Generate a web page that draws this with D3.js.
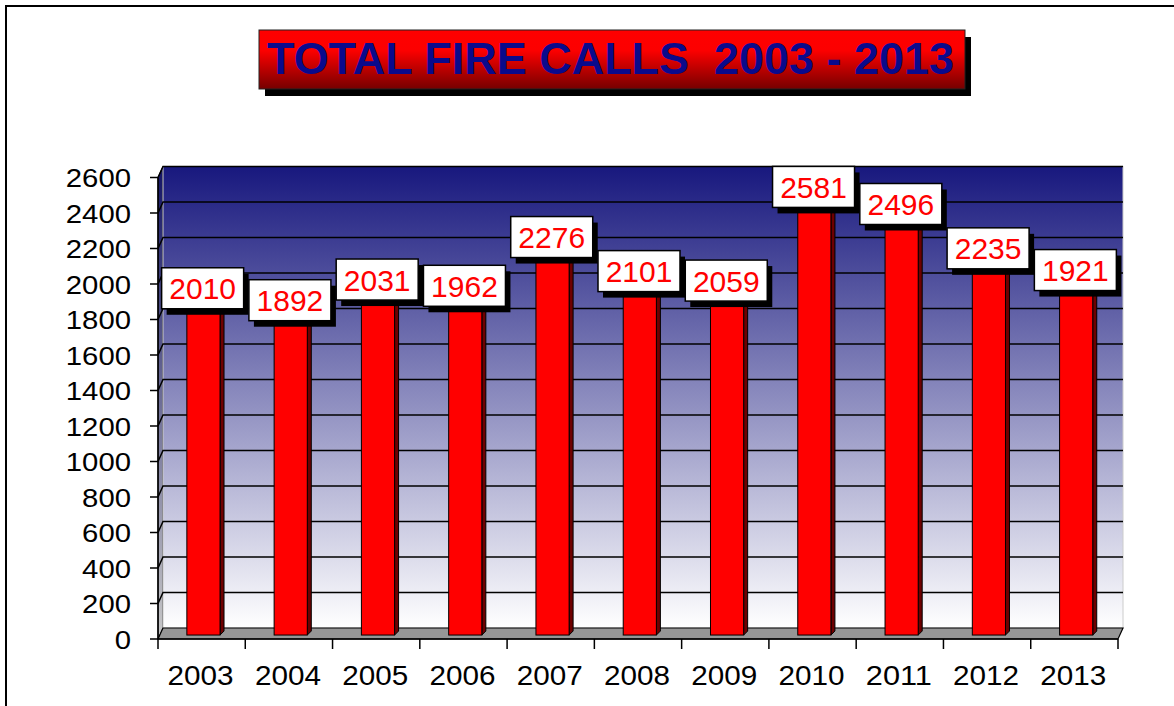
<!DOCTYPE html>
<html>
<head>
	<title>total fire calls</title>
	<script src="https://cdnjs.cloudflare.com/ajax/libs/d3/7.8.5/d3.min.js"></script>
	<style>
		body { margin:0; background:#fff; }
		svg { display:block; }
		text { font-family: "Liberation Sans", Arial, sans-serif; }
	</style>
</head>
<body>
	<svg width="1174" height="706"></svg>
	<script type="text/javascript">

		var years = ["2003","2004","2005","2006","2007","2008","2009","2010","2011","2012","2013"];
		var calls = [2010,1892,2031,1962,2276,2101,2059,2581,2496,2235,1921];
		var yTicks = [0,200,400,600,800,1000,1200,1400,1600,1800,2000,2200,2400,2600];
		var titleText = "TOTAL FIRE CALLS  2003 - 2013";
		// small vertical nudges for the value boxes (they were dragged by hand in the original)
		var labelNudge = [10,1,5,-1,6,9,11,10,12,10,-24];

		var svg = d3.select("svg");
		var defs = svg.append("defs");

		var wallGrad = defs.append("linearGradient").attr("id","wall").attr("x1",0).attr("y1",0).attr("x2",0).attr("y2",1);
		wallGrad.append("stop").attr("offset","0%").attr("stop-color","#18187e");
		wallGrad.append("stop").attr("offset","100%").attr("stop-color","#ffffff");

		var sideGrad = defs.append("linearGradient").attr("id","side").attr("x1",0).attr("y1",0).attr("x2",0).attr("y2",1);
		sideGrad.append("stop").attr("offset","0%").attr("stop-color","#141466");
		sideGrad.append("stop").attr("offset","100%").attr("stop-color","#c8c8c8");

		var titleGrad = defs.append("linearGradient").attr("id","title").attr("x1",0).attr("y1",0).attr("x2",0).attr("y2",1);
		titleGrad.append("stop").attr("offset","0%").attr("stop-color","#ff0000");
		titleGrad.append("stop").attr("offset","35%").attr("stop-color","#fc0000");
		titleGrad.append("stop").attr("offset","100%").attr("stop-color","#760000");

		// outer frame
		svg.append("rect").attr("x",6).attr("y",6).attr("width",1300).attr("height",900)
			.style("fill","none").style("stroke","#000").style("stroke-width",2);

		// depth of the 3d box
		var DX = 5, DY = -11;
		var x0 = 158, x1 = 1118;

		var x = d3.scaleBand().domain(years).range([x0,x1]).paddingInner(0.62).paddingOuter(0.31);
		var xc = d3.scaleBand().domain(years).range([x0,x1]);
		var y = d3.scaleLinear().domain([0,2600]).range([639,177.5]);

		var plot = svg.append("g");

		// side wall
		plot.append("polygon")
			.attr("points", [[x0,y(2600)],[x0+DX,y(2600)+DY],[x0+DX,y(0)+DY],[x0,y(0)]].join(" "))
			.style("fill","url(#side)").style("stroke","#000").style("stroke-width",1);

		// back wall
		plot.append("rect")
			.attr("x",x0+DX).attr("y",y(2600)+DY)
			.attr("width",x1-x0).attr("height",y(0)-y(2600))
			.style("fill","url(#wall)").style("stroke","#ccc").style("stroke-width",1);

		// gridlines
		plot.selectAll(".grid").data(yTicks.slice(1)).enter().append("polyline")
			.attr("points", function(d) {return [[x0,y(d)],[x0+DX,y(d)+DY],[x1+DX,y(d)+DY]].join(" ")})
			.style("fill","none").style("stroke","#000").style("stroke-width",1.5);

		// floor
		plot.append("polygon")
			.attr("points", [[x0,y(0)],[x0+DX,y(0)+DY],[x1+DX,y(0)+DY],[x1,y(0)]].join(" "))
			.style("fill","#969696").style("stroke","#000").style("stroke-width",1.2);

		// bars
		var bd = 0.36, sideW = 4, sideH = -4;
		var bars = plot.selectAll(".bar").data(calls).enter().append("g");
		bars.append("polygon")
			.attr("points", function(d,i) {
				var r = x(years[i]) + x.bandwidth() + DX*bd;
				var t = y(d) + DY*bd, b = y(0) + DY*bd;
				return [[r,b],[r,t],[r+sideW,t+sideH],[r+sideW,b+sideH]].join(" ");
			})
			.style("fill","#6e0000").style("stroke","#000").style("stroke-width",1);
		bars.append("rect")
			.attr("x", function(d,i) {return x(years[i]) + DX*bd})
			.attr("y", function(d) {return y(d) + DY*bd})
			.attr("width", x.bandwidth())
			.attr("height", function(d) {return y(0) - y(d)})
			.style("fill","#ff0000").style("stroke","#000").style("stroke-width",1);

		// y axis
		var yAxis = plot.append("g");
		yAxis.append("line").attr("x1",x0).attr("x2",x0).attr("y1",y(2600)).attr("y2",y(0))
			.style("stroke","#000").style("stroke-width",1.5);
		yAxis.selectAll(".tk").data(yTicks).enter().append("line")
			.attr("x1",150).attr("x2",x0).attr("y1",function(d) {return y(d)}).attr("y2",function(d) {return y(d)})
			.style("stroke","#000").style("stroke-width",1.5);
		yAxis.selectAll(".lbl").data(yTicks).enter().append("text")
			.attr("x",131).attr("y",function(d) {return y(d) + 9.5})
			.attr("text-anchor","end")
			.attr("textLength",function(d) {return String(d).length*16.3})
			.attr("lengthAdjust","spacingAndGlyphs")
			.style("font-size","25px").style("fill","#000")
			.text(function(d) {return d});

		// x axis
		var xAxis = plot.append("g");
		xAxis.append("line").attr("x1",x0).attr("x2",x1).attr("y1",y(0)).attr("y2",y(0))
			.style("stroke","#000").style("stroke-width",1.5);
		xAxis.selectAll(".tk").data(years.concat(["end"])).enter().append("line")
			.attr("x1",function(d,i) {return x0 + i*xc.step()})
			.attr("x2",function(d,i) {return x0 + i*xc.step()})
			.attr("y1",y(0)).attr("y2",y(0)+10)
			.style("stroke","#000").style("stroke-width",1.5);
		xAxis.selectAll(".lbl").data(years).enter().append("text")
			.attr("x",function(d) {return xc(d) + xc.bandwidth()/2 - 1})
			.attr("y",685)
			.attr("text-anchor","middle")
			.attr("textLength",66).attr("lengthAdjust","spacingAndGlyphs")
			.style("font-size","27px").style("fill","#000")
			.text(function(d) {return d});

		// value boxes
		var bw = 82, bh = 41;
		var lab = plot.selectAll(".val").data(calls).enter().append("g")
			.attr("transform", function(d,i) {
				var cx = xc(years[i]) + xc.bandwidth()/2 + 1;
				var cy = y(d) + DY*bd + labelNudge[i];
				return "translate(" + cx + "," + cy + ")";
			});
		lab.append("rect").attr("x",-bw/2+5).attr("y",-bh/2+6).attr("width",bw).attr("height",bh)
			.style("fill","#000");
		lab.append("rect").attr("x",-bw/2).attr("y",-bh/2).attr("width",bw).attr("height",bh)
			.style("fill","#fff").style("stroke","#000").style("stroke-width",1.5);
		lab.append("text").attr("x",0).attr("y",11)
			.attr("text-anchor","middle")
			.style("font-size","30px").style("fill","#ff0000")
			.text(function(d) {return d});

		// title
		var tg = svg.append("g");
		tg.append("rect").attr("x",265).attr("y",37).attr("width",706).attr("height",59).style("fill","#000");
		tg.append("rect").attr("x",259).attr("y",30).attr("width",706).attr("height",59)
			.style("fill","url(#title)").style("stroke","#222").style("stroke-width",1);
		tg.append("text").attr("x",267).attr("y",74)
			.attr("textLength",687).attr("lengthAdjust","spacingAndGlyphs")
			.style("font-size","45px").style("font-weight","bold").style("fill","#0a0a8c")
			.style("white-space","pre")
			.text(titleText);

	</script>
</body>
</html>
